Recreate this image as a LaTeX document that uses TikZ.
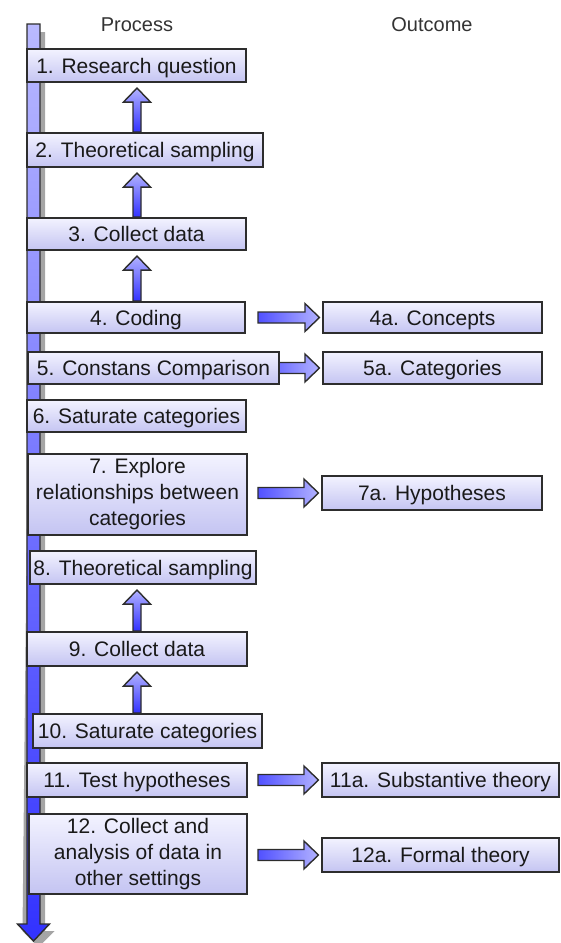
\documentclass[tikz,border=0pt]{standalone}
\usepackage{fontspec}
\setmainfont{Liberation Sans}
\usetikzlibrary{calc,shadows}
\pgfdeclarelayer{bg}
\pgfdeclarelayer{arr}
\pgfsetlayers{bg,arr,main}

\definecolor{boxtop}{RGB}{243,243,255}
\definecolor{boxbot}{RGB}{196,196,242}
\definecolor{edge}{RGB}{45,45,45}
\definecolor{lightblue}{RGB}{178,178,255}
\definecolor{deepblue}{RGB}{50,50,255}
\definecolor{shadowgray}{RGB}{165,165,165}

\tikzset{
  stepbox/.style={draw=edge, line width=1.6pt, top color=boxtop, bottom color=boxbot,
    inner sep=2pt, font=\fontsize{21}{26}\selectfont, text=black!90,
    drop shadow={shadow xshift=1.2pt, shadow yshift=-1.2pt, fill=black, opacity=0.25}},
  oneline/.style={text height=19pt, text depth=4pt},
  multiline/.style={align=center},
  heading/.style={font=\fontsize{20}{24}\selectfont, text=black!80},
  uparr/.style={draw=edge, line width=1.4pt, top color=lightblue, bottom color=deepblue, line join=miter},
  rightarr/.style={draw=edge, line width=1.4pt, left color=deepblue!85!white, right color=lightblue, line join=miter},
  barstyle/.style={draw=edge, line width=1.4pt, top color=lightblue!90!white, bottom color=deepblue, line join=miter},
}

\begin{document}
\begin{tikzpicture}[x=1pt, y=-1pt]
  \useasboundingbox (0,0) rectangle (561,943);

  % column headings
  \node[heading] (hproc) at (137,25) {Process};
  \node[heading] (hout) at (432,25) {Outcome};

  % process steps
  \node[stepbox, oneline, minimum width=219.5pt, minimum height=33.5pt] (b1) at (136.5,65.5) {1. Research question};
  \node[stepbox, oneline, minimum width=236.5pt, minimum height=34.5pt] (b2) at (145,150) {2. Theoretical sampling};
  \node[stepbox, oneline, minimum width=219.5pt, minimum height=32.5pt] (b3) at (136.5,234) {3. Collect data};
  \node[stepbox, oneline, minimum width=218.5pt, minimum height=31.5pt] (b4) at (136,317.5) {4. Coding};
  \node[stepbox, oneline, minimum width=251.5pt, minimum height=32.5pt] (b5) at (153.5,368) {5. Constans Comparison};
  \node[stepbox, oneline, minimum width=219.5pt, minimum height=32.5pt] (b6) at (136.5,416) {6. Saturate categories};
  \node[stepbox, multiline, minimum width=219.5pt, minimum height=81.5pt] (b7) at (137.5,494.5) {7. Explore\\relationships between\\categories};
  \node[stepbox, oneline, minimum width=226.5pt, minimum height=33.5pt] (b8) at (143,567.5) {8. Theoretical sampling};
  \node[stepbox, oneline, minimum width=220.5pt, minimum height=34.5pt] (b9) at (137,649) {9. Collect data};
  \node[stepbox, oneline, minimum width=229.5pt, minimum height=34.5pt] (b10) at (147.5,731) {10. Saturate categories};
  \node[stepbox, oneline, minimum width=220.5pt, minimum height=34.5pt] (b11) at (137,780) {11. Test hypotheses};
  \node[stepbox, multiline, minimum width=218.5pt, minimum height=80.5pt] (b12) at (138,854) {12. Collect and\\analysis of data in\\other settings};

  % outcomes
  \node[stepbox, oneline, minimum width=219.5pt, minimum height=31.5pt] (o4) at (432.5,317.5) {4a. Concepts};
  \node[stepbox, oneline, minimum width=219.5pt, minimum height=32.5pt] (o5) at (432.5,368) {5a. Categories};
  \node[stepbox, oneline, minimum width=220.5pt, minimum height=34.5pt] (o7) at (432,493) {7a. Hypotheses};
  \node[stepbox, oneline, minimum width=237.5pt, minimum height=34.5pt] (o11) at (440.5,780) {11a. Substantive theory};
  \node[stepbox, oneline, minimum width=237.5pt, minimum height=34.5pt] (o12) at (440.5,855) {12a. Formal theory};

  % reference columns for the block arrows
  \coordinate (acol) at (137,0);
  \coordinate (rcol) at (258,0);
  \coordinate (bartop) at (33.5,24);
  \coordinate (barend) at (33.5,941);

  % time line with its shadow
  \begin{pgfonlayer}{bg}
    \fill[shadowgray] let \p1=(bartop), \p2=(barend) in
      ({\x1-1.5pt},{\y1-8pt}) -- ({\x1+11.5pt},{\y1-8pt}) -- ({\x1+11.5pt},{\y2+10pt}) --
      ({\x1+21pt},{\y2+10pt}) -- ({\x1+5pt},{\y2-6pt}) -- ({\x1-11pt},{\y2+10pt}) -- cycle;
    \path[barstyle] let \p1=(bartop), \p2=(barend) in
      ({\x1-6.5pt},\y1) -- ({\x1+6.5pt},\y1) -- ({\x1+6.5pt},{\y2+17pt}) --
      ({\x1+16pt},{\y2+17pt}) -- (\x1,\y2) -- ({\x1-16pt},{\y2+17pt}) --
      ({\x1-6.5pt},{\y2+17pt}) -- cycle;
  \end{pgfonlayer}

  \begin{pgfonlayer}{arr}
    % upward arrows between process steps
    \foreach \lo/\hi in {b2/b1, b3/b2, b4/b3, b9/b8, b10/b9} {
      \path[uparr] let \p1=(\lo.north), \p2=(\hi.south), \p3=(acol) in
        ({\x3-4pt},\y1) -- ({\x3-4pt},{\y2-19pt}) -- ({\x3-13.5pt},{\y2-19pt}) --
        (\x3,{\y2-5pt}) -- ({\x3+13.5pt},{\y2-19pt}) -- ({\x3+4pt},{\y2-19pt}) --
        ({\x3+4pt},\y1) -- cycle;
    }
    % arrows from steps to outcomes
    \foreach \src/\dst in {b4/o4, b5/o5, b7/o7, b11/o11, b12/o12} {
      \path[rightarr] let \p1=(rcol), \p2=(\dst.west) in
        (\x1,{\y2+5.5pt}) -- ({\x2-17pt},{\y2+5.5pt}) -- ({\x2-17pt},{\y2+14pt}) --
        ({\x2-2.5pt},\y2) -- ({\x2-17pt},{\y2-14pt}) -- ({\x2-17pt},{\y2-5.5pt}) --
        (\x1,{\y2-5.5pt}) -- cycle;
    }
  \end{pgfonlayer}
\end{tikzpicture}
\end{document}
